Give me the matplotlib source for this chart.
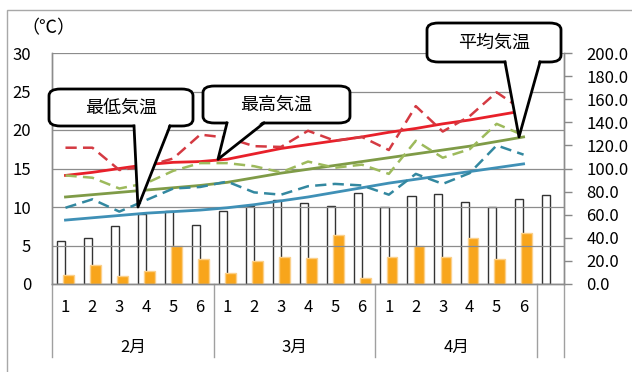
import numpy as np
import matplotlib
matplotlib.use('Agg')
import matplotlib.pyplot as plt
from matplotlib.patches import FancyBboxPatch, Polygon, Rectangle
from matplotlib.lines import Line2D
import matplotlib.transforms as mtransforms

plt.rcParams['font.family'] = ['Noto Sans CJK JP', 'DejaVu Sans']

# データ（半旬ごと）
days = ['1', '2', '3', '4', '5', '6'] * 3
months = ['2月', '3月', '4月']

max_temp = [17.7, 17.7, 14.8, 15.3, 16.3, 19.4, 19.0, 17.9, 17.8, 19.9, 18.6, 19.1, 17.4, 23.1, 19.8, 21.8, 24.9, 22.5]
max_norm = [14.1, 14.5, 15.0, 15.5, 15.8, 15.9, 16.2, 16.9, 17.6, 18.1, 18.6, 19.1, 19.7, 20.2, 20.8, 21.3, 21.9, 22.5]
avg_temp = [14.1, 13.8, 12.4, 13.1, 14.7, 15.7, 15.7, 15.3, 14.5, 15.9, 15.1, 15.5, 14.3, 18.6, 16.4, 17.5, 20.8, 19.3]
avg_norm = [11.3, 11.6, 11.9, 12.2, 12.5, 12.8, 13.2, 13.8, 14.4, 14.9, 15.4, 15.9, 16.4, 16.9, 17.4, 17.9, 18.5, 19.1]
min_temp = [9.9, 11.0, 9.4, 10.9, 12.4, 12.6, 13.3, 11.9, 11.6, 12.7, 13.0, 12.8, 11.6, 14.3, 13.0, 14.4, 18.0, 16.8]
min_norm = [8.3, 8.6, 8.9, 9.2, 9.4, 9.6, 9.9, 10.3, 10.8, 11.3, 11.9, 12.5, 13.1, 13.6, 14.1, 14.6, 15.1, 15.6]

# 右軸の棒（白：19本目まで、橙：18本）
white_bars = [36.8, 39.7, 49.8, 61.0, 63.0, 51.3, 62.9, 67.8, 72.4, 70.2, 67.8, 78.9, 66.7, 75.9, 78.0, 71.3, 66.7, 73.7, 77.1]
orange_bars = [7.8, 16.5, 7.0, 11.3, 33.0, 21.5, 9.8, 20.3, 23.7, 22.9, 42.6, 5.0, 23.2, 33.0, 23.2, 39.4, 21.5, 44.1]

W, H = 632, 372
fig = plt.figure(figsize=(W / 100, H / 100), dpi=100)
ax = fig.add_axes([52 / W, 1 - 284 / H, (564 - 52) / W, (284 - 53) / H])
ax2 = ax.twinx()

x = np.arange(len(max_temp))
xw = np.arange(len(white_bars))

ax2.bar(xw - 0.16, white_bars, width=0.3, color='white', edgecolor='#333333', linewidth=1.0, zorder=2)
ax2.bar(x + 0.12, orange_bars, width=0.4, color='#f8a51b', edgecolor='#fbd08a', linewidth=1.0, zorder=3)
ax2.set_ylim(0, 200)
ax2.set_yticks(np.arange(0, 201, 20))
ax2.set_yticklabels([f'{v:.1f}' for v in np.arange(0, 201, 20)], fontsize=12)
ax2.tick_params(axis='y', length=6, width=1, color='#888888', pad=10, direction='out')

ax.set_zorder(ax2.get_zorder() + 1)
ax.patch.set_visible(False)

dash = (0, (4.5, 2.5))
ax.plot(x, max_norm, color='#e8202a', lw=2.0)
ax.plot(x, max_temp, color='#d43a42', lw=1.8, ls=dash)
ax.plot(x, avg_norm, color='#7f9b47', lw=2.0)
ax.plot(x, avg_temp, color='#9dba5c', lw=1.8, ls=dash)
ax.plot(x, min_norm, color='#3f90b6', lw=2.0)
ax.plot(x, min_temp, color='#3388a0', lw=1.8, ls=dash)

ax.set_xlim(-0.5, 18.5)
ax.set_ylim(0, 30)
ax.set_yticks(np.arange(0, 31, 5))
ax.set_yticklabels([str(v) for v in range(0, 31, 5)], fontsize=12)
ax.tick_params(axis='y', length=0, pad=15)
ax.yaxis.grid(True, color='#8c8c8c', lw=0.9)
ax.set_axisbelow(True)
ax2.yaxis.grid(False)

ax.set_xticks(x)
ax.set_xticklabels(days, fontsize=12)
ax.tick_params(axis='x', length=0, pad=11)

ax.spines['top'].set_visible(False)
ax2.spines['top'].set_visible(False)
for a in (ax, ax2):
    for s in ['left', 'right', 'bottom']:
        a.spines[s].set_color('#8c8c8c')
        a.spines[s].set_linewidth(1)

# 月の区切り線と月ラベル
trans = mtransforms.blended_transform_factory(ax.transData, ax.transAxes)
for xv in [-0.5, 5.5, 11.5, 17.5, 18.5]:
    ax.add_line(Line2D([xv, xv], [0, -0.316], transform=trans, color='#a0a0a0', lw=1, clip_on=False))
for i, m in enumerate(months):
    ax.text(2.5 + 6 * i, -0.273, m, transform=trans, ha='center', va='center', fontsize=12)

fig.text(48 / W, 1 - 28 / H, '（℃）', ha='center', va='center', fontsize=13)

# 外枠
fig.add_artist(Rectangle((7 / W, -0.05), 1.1, (1 - 10 / H) + 0.05, transform=fig.transFigure,
                         fill=False, edgecolor='#a8a8a8', lw=1))


def callout(text, box, base, tip_data):
    # box: (x0, y0, x1, y1) in pixel coords from top-left
    x0, y0, x1, y1 = box
    tx, ty = ax.transData.transform(tip_data)
    ft = fig.transFigure.inverted()

    def fp(px, py):
        return ft.transform((px, py))
    bx0, by0 = fp(x0, H - y1)
    bx1, by1 = fp(x1, H - y0)
    fig.add_artist(FancyBboxPatch((bx0, by0), bx1 - bx0, by1 - by0,
                                  boxstyle='round,pad=0,rounding_size=0.018',
                                  transform=fig.transFigure, facecolor='white',
                                  edgecolor='black', lw=2.0, zorder=10))
    p1 = fp(base[0], H - y1)
    p2 = fp(base[1], H - y1)
    pin1 = fp(base[0] + 1, H - y1 + 2)
    pin2 = fp(base[1] - 1, H - y1 + 2)
    tip = ft.transform((tx, ty))
    fig.add_artist(Polygon([pin1, pin2, tip], closed=True, transform=fig.transFigure,
                           facecolor='white', edgecolor='none', zorder=11))
    fig.add_artist(Line2D([p1[0], tip[0], p2[0]], [p1[1], tip[1], p2[1]],
                          transform=fig.transFigure, color='black', lw=2.0, zorder=12))
    cx, cy = fp((x0 + x1) / 2, H - (y0 + y1) / 2)
    fig.text(cx, cy, text, ha='center', va='center', fontsize=13, zorder=13)


callout('最低気温', (49, 89, 193, 126), (134, 170), (2.69, 10.0))
callout('最高気温', (203, 86, 350, 123), (227, 264), (5.66, 16.2))
callout('平均気温', (427, 23, 561, 62), (505, 540), (16.83, 19.1))

fig.savefig('out.png', dpi=100)
